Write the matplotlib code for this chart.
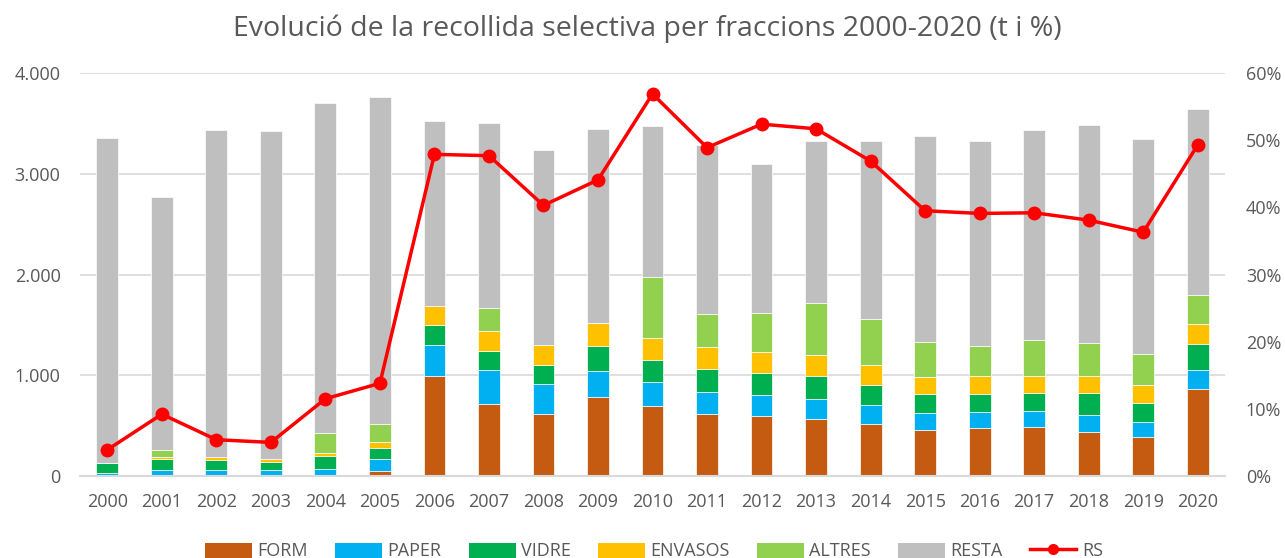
import matplotlib.pyplot as plt
import numpy as np
from matplotlib.ticker import FuncFormatter, MultipleLocator
from matplotlib.patches import Patch
from matplotlib.lines import Line2D

plt.rcParams['font.family'] = ['Open Sans', 'DejaVu Sans']

# Data (tones per fracció)
years = [str(y) for y in range(2000, 2021)]
form = [0, 0, 0, 0, 0, 53, 990, 718, 619, 781, 692, 619, 599, 569, 516, 460, 473, 483, 440, 390, 860]
paper = [33, 60, 60, 60, 73, 119, 307, 331, 298, 258, 238, 212, 202, 192, 186, 162, 159, 162, 165, 143, 189]
vidre = [99, 112, 99, 79, 122, 109, 205, 195, 185, 251, 225, 231, 221, 229, 201, 192, 182, 179, 219, 195, 264]
envasos = [0, 17, 26, 30, 30, 56, 188, 195, 202, 229, 218, 215, 206, 208, 199, 169, 176, 172, 172, 178, 199]
altres = [0, 66, 0, 0, 199, 182, 0, 232, 0, 0, 605, 328, 393, 519, 453, 350, 304, 354, 327, 305, 285]
resta = [3225, 2515, 3251, 3254, 3283, 3248, 1838, 1838, 1936, 1927, 1498, 1682, 1477, 1613, 1772, 2043, 2033, 2086, 2163, 2133, 1851]
rs = [3.9, 9.2, 5.4, 5.0, 11.5, 13.8, 47.9, 47.7, 40.3, 44.1, 56.9, 48.9, 52.4, 51.7, 46.9, 39.5, 39.1, 39.2, 38.1, 36.3, 49.3]

series = [
    ("FORM", form, "#c55a11"),
    ("PAPER", paper, "#00b0f0"),
    ("VIDRE", vidre, "#00b050"),
    ("ENVASOS", envasos, "#ffc000"),
    ("ALTRES", altres, "#92d050"),
    ("RESTA", resta, "#bfbfbf"),
]
grey = "#595959"

fig = plt.figure(figsize=(12.85, 5.58), dpi=100)
ax = fig.add_axes([0.0623, 0.147, 0.891, 0.722])

x = np.arange(len(years))
bottom = np.zeros(len(years))
handles = []
for name, vals, col in series:
    vals = np.array(vals, dtype=float)
    ax.bar(x, vals, 0.4, bottom=bottom, color=col, edgecolor="white", linewidth=0.5, zorder=2)
    bottom += vals
    handles.append(Patch(facecolor=col, label=name))

ax.set_xlim(-0.5, len(years) - 0.5)
ax.set_ylim(0, 4000)
ax.yaxis.set_major_locator(MultipleLocator(1000))
ax.yaxis.set_major_formatter(FuncFormatter(lambda v, p: f"{int(v):,}".replace(",", ".")))
ax.grid(axis="y", color="#d9d9d9", linewidth=1.2, zorder=0)
ax.set_axisbelow(True)
for s in ["top", "right", "left"]:
    ax.spines[s].set_visible(False)
ax.spines["bottom"].set_color("#d9d9d9")
ax.spines["bottom"].set_linewidth(1.5)
ax.set_xticks(x)
ax.set_xticklabels(years)
ax.tick_params(axis="x", length=0, pad=12, labelsize=13, labelcolor=grey)
ax.tick_params(axis="y", length=0, pad=14, labelsize=13, labelcolor=grey)

ax2 = ax.twinx()
ax2.plot(x, np.array(rs) / 100, color="#ff0000", linewidth=2.5, marker="o", markersize=9, zorder=3)
ax2.set_ylim(0, 0.6)
ax2.yaxis.set_major_locator(MultipleLocator(0.1))
ax2.yaxis.set_major_formatter(FuncFormatter(lambda v, p: f"{v * 100:.0f}%"))
ax2.tick_params(axis="y", length=0, pad=15, labelsize=13, labelcolor=grey)
for s in ["top", "right", "left", "bottom"]:
    ax2.spines[s].set_visible(False)

handles.append(Line2D([0], [0], color="#ff0000", linewidth=2.5, marker="o", markersize=7, label="RS"))

fig.text(0.504, 0.948, "Evolució de la recollida selectiva per fraccions 2000-2020 (t i %)",
         ha="center", va="center", fontsize=20.5, color=grey)

fig.legend(handles=handles, loc="center", bbox_to_anchor=(0.509, 0.012), ncol=7, frameon=False,
           fontsize=13, labelcolor=grey, handlelength=2.6, handleheight=0.9,
           columnspacing=1.5, handletextpad=0.3)

fig.savefig("out.png", dpi=100)
